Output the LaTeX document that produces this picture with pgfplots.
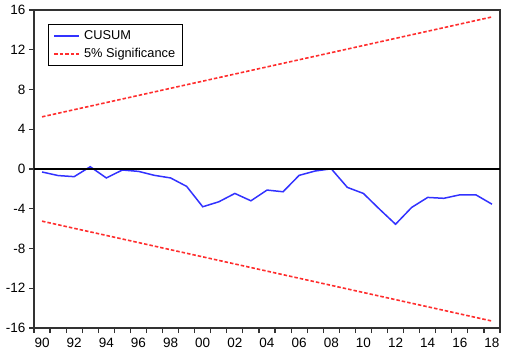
\documentclass[border=0pt]{standalone}
\usepackage{pgfplots}
\pgfplotsset{compat=1.18}
\usepackage{fontspec}
\setmainfont{Liberation Sans}
\definecolor{cusumblue}{RGB}{50,50,255}
\definecolor{sigred}{RGB}{255,45,45}
\definecolor{framegray}{RGB}{50,50,50}
\begin{document}
\begin{tikzpicture}
\useasboundingbox (-34bp,-30bp) rectangle (476bp,328bp);
\begin{axis}[
  at={(0,0)}, anchor=south west,
  scale only axis, width=466bp, height=318bp,
  xmin=1989.5, xmax=2018.5, ymin=-16, ymax=16,
  axis line style={framegray, line width=1.2bp},
  xtick={1989.5,1990.5,...,2018.5}, xticklabels={},
  extra x ticks={1990,1992,...,2018},
  extra x tick labels={90,92,94,96,98,00,02,04,06,08,10,12,14,16,18},
  extra x tick style={grid=none, major tick length=0pt, xticklabel style={yshift=-7bp}},
  ytick={-16,-12,...,16}, yticklabels={-16,-12,-8,-4,0,4,8,12,16},
  tick align=outside, xtick pos=bottom, ytick pos=left,
  major tick length=5bp,
  tick style={framegray, line width=1.2bp},
  tick label style={font=\fontsize{13.5bp}{15bp}\selectfont},
  legend style={at={(0,1)}, anchor=north west, xshift=14bp, yshift=-14bp,
    draw=black, line width=1bp, font=\fontsize{12.8bp}{14bp}\selectfont,
    inner xsep=5bp, inner ysep=4.5bp, row sep=3bp, column sep=2bp, cells={anchor=west}},
  legend image code/.code={\draw[#1] (0bp,0bp) -- (25bp,0bp);},
]
\addplot[cusumblue, line width=1.5bp] coordinates {
(1990,-0.30) (1991,-0.66) (1992,-0.77) (1993,0.23) (1994,-0.90)
(1995,-0.10) (1996,-0.24) (1997,-0.64) (1998,-0.90) (1999,-1.75)
(2000,-3.80) (2001,-3.30) (2002,-2.46) (2003,-3.20) (2004,-2.12)
(2005,-2.29) (2006,-0.64) (2007,-0.20) (2008,0.02) (2009,-1.85)
(2010,-2.46) (2011,-4.04) (2012,-5.56) (2013,-3.87) (2014,-2.86)
(2015,-2.95) (2016,-2.60) (2017,-2.60) (2018,-3.54)};
\addlegendentry{CUSUM}
\addplot[sigred, line width=1.6bp, dash pattern=on 3.5bp off 2bp] coordinates {(1990,5.25) (2018,15.3)};
\addlegendentry{5\% Significance}
\addplot[sigred, line width=1.6bp, dash pattern=on 3.5bp off 2bp, forget plot] coordinates {(1990,-5.25) (2018,-15.3)};
\addplot[black, line width=1.4bp, forget plot] coordinates {(1989.5,0) (2018.5,0)};
\end{axis}
\end{tikzpicture}
\end{document}
